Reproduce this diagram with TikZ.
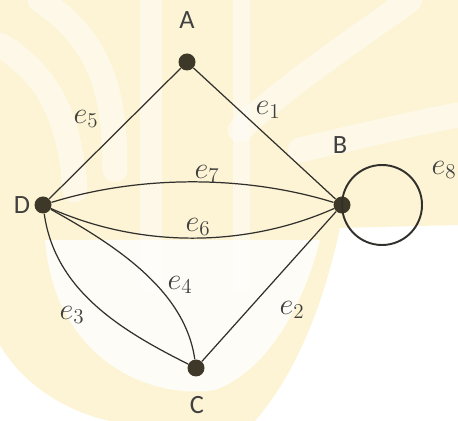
\documentclass[tikz,border=0pt]{standalone}
\usepackage{fontspec}
\setmainfont{Carlito}
\usetikzlibrary{calc}
\definecolor{wmyellow}{RGB}{252,244,212}
\definecolor{edgecol}{RGB}{50,48,45}
\definecolor{dotcol}{RGB}{62,56,40}
\tikzset{
  vertex/.style={circle, fill=dotcol, inner sep=0pt, minimum size=3.4mm},
  vname/.style={font=\fontsize{15}{17}\selectfont, text=black!75},
  elabel/.style={font=\fontsize{17}{19}\selectfont, text=black!75},
  edge/.style={draw=edgecol, line width=0.7pt},
  wmband/.style={draw=white, line width=5mm, opacity=0.45, line cap=round}
}
\begin{document}
\begin{tikzpicture}[x=0.2mm, y=-0.2mm]
  \useasboundingbox (0,0) rectangle (458,421);
  % faint watermark behind the graph
  \fill[white] (0,0) rectangle (458,421);
  \fill[wmyellow] (0,0) -- (458,0) -- (458,225) -- (340,228)
    .. controls (320,320) and (290,380) .. (255,421) -- (110,421)
    .. controls (60,410) and (20,380) .. (0,345) -- cycle;
  \fill[white, opacity=0.8] (45,240) .. controls (55,360) and (150,400) .. (215,390)
    .. controls (270,370) and (305,300) .. (320,240) -- cycle;
  \fill[white, opacity=0.45] (140,0) rectangle (162,290);
  \fill[white, opacity=0.45] (233,0) rectangle (250,290);
  \draw[wmband] (40,0) .. controls (100,40) and (115,90) .. (115,170);
  \draw[wmband] (0,45) .. controls (50,75) and (70,120) .. (75,190);
  \draw[wmband] (410,0) .. controls (340,50) and (280,90) .. (240,130);
  \draw[wmband] (300,150) .. controls (360,136) and (420,122) .. (458,115);

  % vertices
  \node[vertex] (A) at (187,62) {};
  \node[vertex] (B) at (342,205) {};
  \node[vertex] (C) at (196,368) {};
  \node[vertex] (D) at (43,205) {};
  \node[vname] (lA) at (187,20) {A};
  \node[vname] (lB) at (340,145) {B};
  \node[vname, inner sep=0pt] (lC) at (197,405) {C};
  \node[vname] (lD) at (22,205) {D};

  % edges
  \draw[edge] (A) -- (B);
  \draw[edge] (B) -- (C);
  \draw[edge] (A) -- (D);
  \draw[edge] (D) .. controls (140,175) and (245,175) .. (B);
  \draw[edge] (D) .. controls (140,248) and (245,248) .. (B);
  \draw[edge] (D) .. controls (115,245) and (185,290) .. (C);
  \draw[edge] (D) .. controls (55,290) and (120,330) .. (C);
  \draw[draw=edgecol, line width=1.1pt] (B.center) arc[start angle=180, end angle=-180, radius=40];

  % edge labels
  \node[elabel] (le1) at (268,110) {$e_1$};
  \node[elabel] (le2) at (292,310) {$e_2$};
  \node[elabel] (le3) at (72,315) {$e_3$};
  \node[elabel] (le4) at (180,285) {$e_4$};
  \node[elabel] (le5) at (86,119) {$e_5$};
  \node[elabel] (le6) at (198,227) {$e_6$};
  \node[elabel] (le7) at (207,174) {$e_7$};
  \node[elabel, anchor=east, inner sep=0pt] (le8) at (457,170) {$e_8$};
\end{tikzpicture}
\end{document}
